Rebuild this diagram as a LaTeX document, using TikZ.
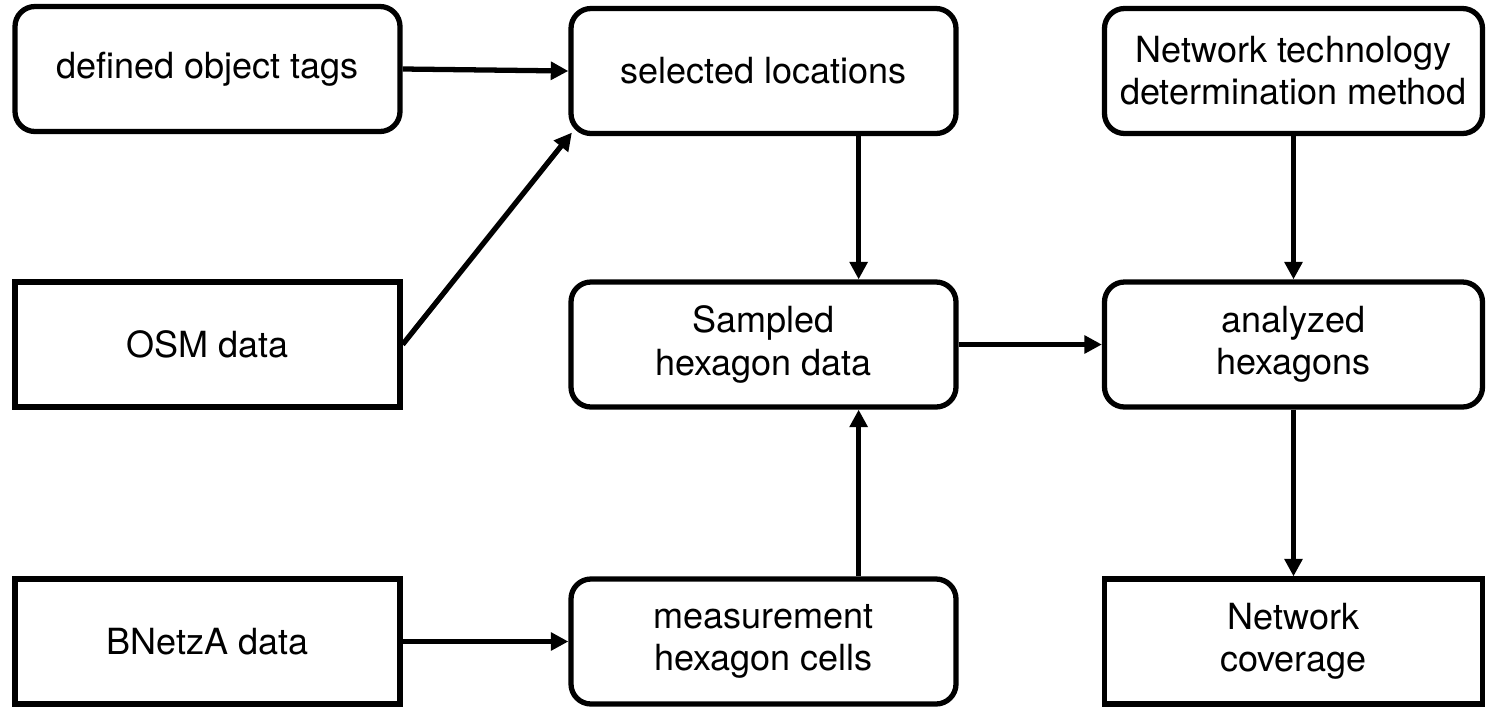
\documentclass[tikz,border=0pt]{standalone}
\usepackage{fontspec}
\setmainfont{TeX Gyre Heros}
\usetikzlibrary{positioning, arrows.meta}

\begin{document}
\begin{tikzpicture}[
    >={Triangle[length=10pt, width=10pt]},
    rbox/.style={draw, rectangle, rounded corners=0.4cm, line width=3pt, minimum width=7.7cm, minimum height=2.5cm, align=center, font=\fontsize{20.5}{24}\selectfont},
    sbox/.style={rbox, sharp corners},
    flow/.style={->, line width=3pt}
]
\useasboundingbox (0,0) rectangle (29.72,-14.14);

% 1. Left column (input data)
\node[rbox] (tags) at (4.15,-1.38) {defined object tags};
\node[sbox] (osm) at (4.15,-6.89) {OSM data};
\node[sbox] (bnetza) at (4.15,-12.83) {BNetzA data};

% 2. Middle column
\node[rbox] (sel) at (15.27,-1.42) {selected locations};
\node[rbox] (samp) at (15.27,-6.89) {Sampled\\hexagon data};
\node[rbox] (meas) at (15.27,-12.83) {measurement\\hexagon cells};

% 3. Right column
\node[rbox, minimum width=7.56cm] (tech) at (25.87,-1.42) {Network technology\\determination method};
\node[rbox, minimum width=7.56cm] (anal) at (25.87,-6.89) {analyzed\\hexagons};
\node[sbox, minimum width=7.56cm] (cov) at (25.87,-12.83) {Network\\coverage};

% 4. Connectors
\draw[flow] (tags.east) -- (sel.west);
\draw[flow] (osm.east) -- ([shift={(0.07,0.07)}]sel.south west);
\draw[flow] (bnetza.east) -- (meas.west);
\draw[flow] ([xshift=-2cm]sel.south east) -- ([xshift=-2cm]samp.north east);
\draw[flow] ([xshift=-2cm]meas.north east) -- ([xshift=-2cm]samp.south east);
\draw[flow] (samp.east) -- (anal.west);
\draw[flow] (tech.south) -- (anal.north);
\draw[flow] (anal.south) -- (cov.north);

\end{tikzpicture}
\end{document}
